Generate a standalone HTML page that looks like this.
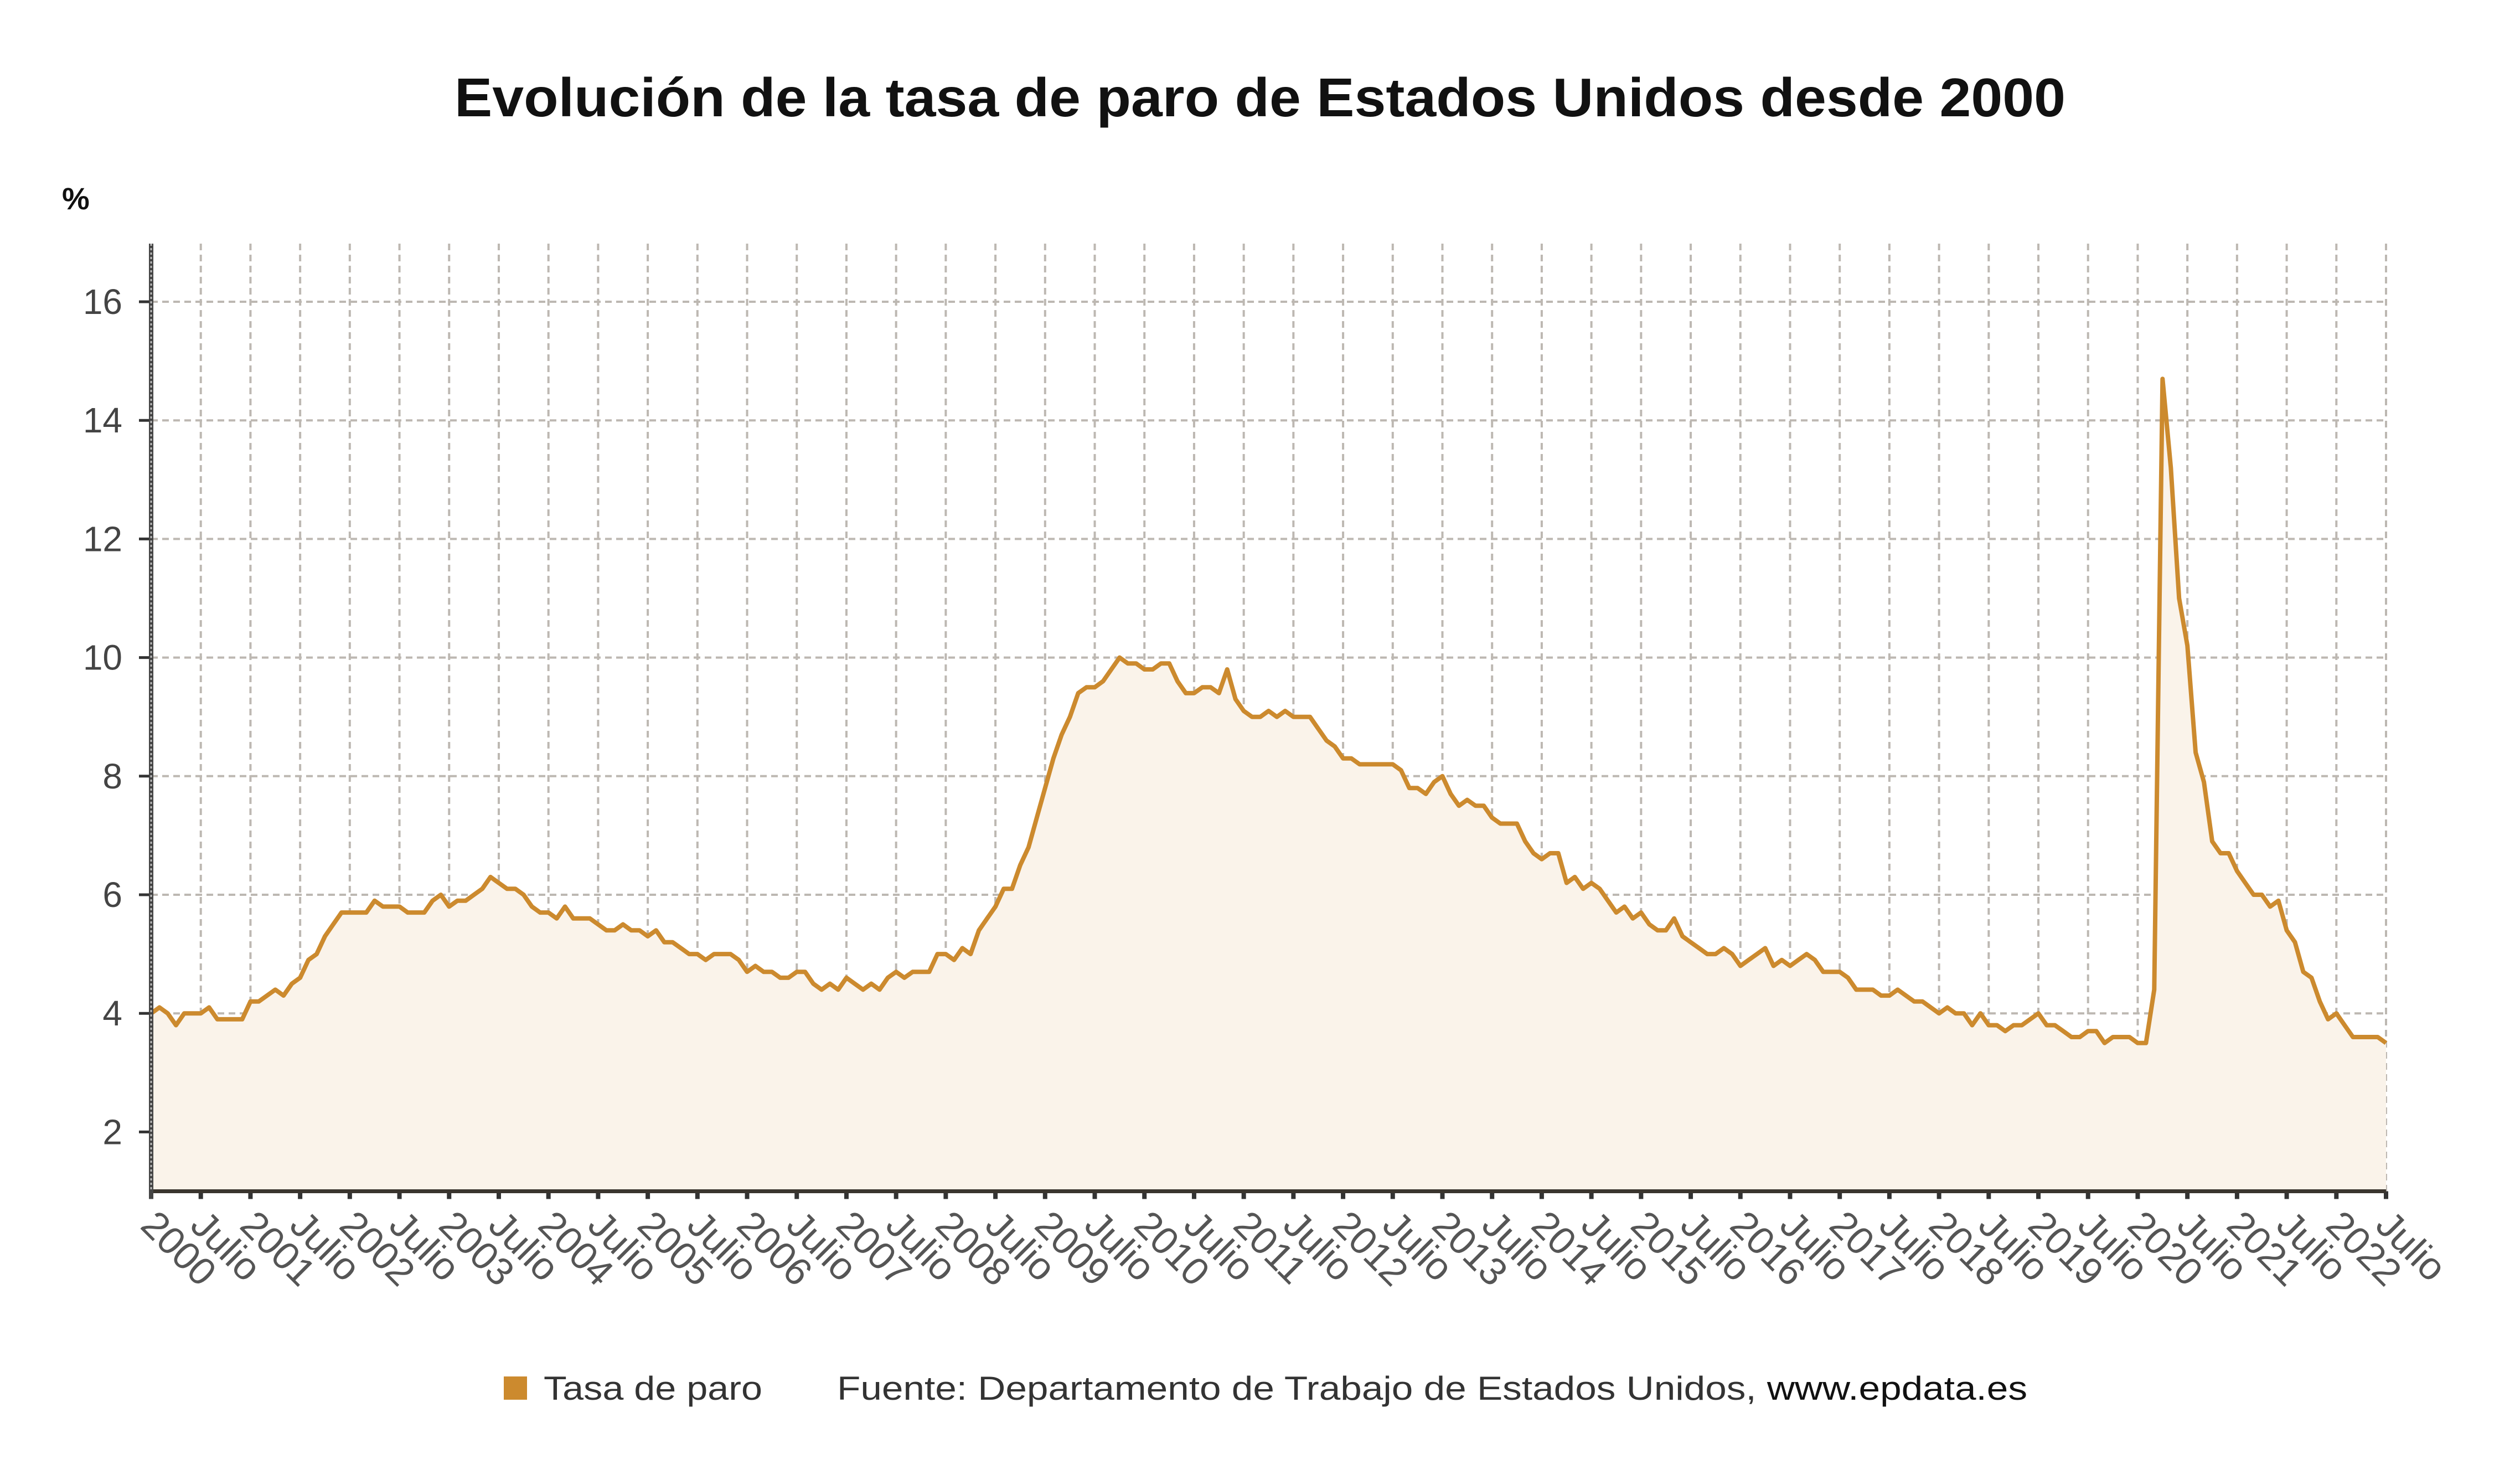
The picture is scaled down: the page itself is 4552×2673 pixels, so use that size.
<!DOCTYPE html>
<html><head><meta charset="utf-8"><style>
html,body{margin:0;padding:0;background:#fff;}
svg{display:block;font-family:"Liberation Sans",sans-serif;}
</style></head><body>
<svg id="c" width="4552" height="2673" viewBox="0 0 4552 2673" xmlns="http://www.w3.org/2000/svg">
<text x="2276" y="210" text-anchor="middle" font-size="98" font-weight="bold" fill="#111" textLength="2910" lengthAdjust="spacingAndGlyphs">Evolución de la tasa de paro de Estados Unidos desde 2000</text>
<text x="112" y="378" font-size="56" font-weight="bold" fill="#111">%</text>
<g id="grid"></g>
<g id="plot"></g>
<g id="axes"></g>
<rect x="910" y="2486" width="42" height="42" fill="#cc8a2e"/>
<text x="982" y="2528" font-size="60" fill="#333" textLength="395" lengthAdjust="spacingAndGlyphs">Tasa de paro</text>
<text x="1512" y="2528" font-size="60" fill="#333" textLength="2150" lengthAdjust="spacingAndGlyphs">Fuente: Departamento de Trabajo de Estados Unidos, <tspan fill="#111">www.epdata.es</tspan></text>
</svg>
<script>
var d=[4.0,4.1,4.0,3.8,4.0,4.0,4.0,4.1,3.9,3.9,3.9,3.9,
4.2,4.2,4.3,4.4,4.3,4.5,4.6,4.9,5.0,5.3,5.5,5.7,
5.7,5.7,5.7,5.9,5.8,5.8,5.8,5.7,5.7,5.7,5.9,6.0,
5.8,5.9,5.9,6.0,6.1,6.3,6.2,6.1,6.1,6.0,5.8,5.7,
5.7,5.6,5.8,5.6,5.6,5.6,5.5,5.4,5.4,5.5,5.4,5.4,
5.3,5.4,5.2,5.2,5.1,5.0,5.0,4.9,5.0,5.0,5.0,4.9,
4.7,4.8,4.7,4.7,4.6,4.6,4.7,4.7,4.5,4.4,4.5,4.4,
4.6,4.5,4.4,4.5,4.4,4.6,4.7,4.6,4.7,4.7,4.7,5.0,
5.0,4.9,5.1,5.0,5.4,5.6,5.8,6.1,6.1,6.5,6.8,7.3,
7.8,8.3,8.7,9.0,9.4,9.5,9.5,9.6,9.8,10.0,9.9,9.9,
9.8,9.8,9.9,9.9,9.6,9.4,9.4,9.5,9.5,9.4,9.8,9.3,
9.1,9.0,9.0,9.1,9.0,9.1,9.0,9.0,9.0,8.8,8.6,8.5,
8.3,8.3,8.2,8.2,8.2,8.2,8.2,8.1,7.8,7.8,7.7,7.9,
8.0,7.7,7.5,7.6,7.5,7.5,7.3,7.2,7.2,7.2,6.9,6.7,
6.6,6.7,6.7,6.2,6.3,6.1,6.2,6.1,5.9,5.7,5.8,5.6,
5.7,5.5,5.4,5.4,5.6,5.3,5.2,5.1,5.0,5.0,5.1,5.0,
4.8,4.9,5.0,5.1,4.8,4.9,4.8,4.9,5.0,4.9,4.7,4.7,
4.7,4.6,4.4,4.4,4.4,4.3,4.3,4.4,4.3,4.2,4.2,4.1,
4.0,4.1,4.0,4.0,3.8,4.0,3.8,3.8,3.7,3.8,3.8,3.9,
4.0,3.8,3.8,3.7,3.6,3.6,3.7,3.7,3.5,3.6,3.6,3.6,
3.5,3.5,4.4,14.7,13.2,11.0,10.2,8.4,7.9,6.9,6.7,6.7,
6.4,6.2,6.0,6.0,5.8,5.9,5.4,5.2,4.7,4.6,4.2,3.9,
4.0,3.8,3.6,3.6,3.6,3.6,3.5];
var X0=273,X1=4310,N=270,Y16=545,YU=107.1;
function X(i){return X0+(X1-X0)*i/N;}
function Y(v){return Y16+(16-v)*YU;}
var YB=Y(1),YT=440;
var ns="http://www.w3.org/2000/svg";
function el(p,t,a,txt){var e=document.createElementNS(ns,t);for(var k in a)e.setAttribute(k,a[k]);if(txt)e.textContent=txt;document.getElementById(p).appendChild(e);return e;}
var pts=d.map(function(v,i){return X(i).toFixed(1)+","+Y(v).toFixed(1);}).join(" ");
el("plot","polygon",{points:X0+","+YB+" "+pts+" "+X1+","+YB,fill:"#faf3ea"});
for(var v=2;v<=16;v+=2){el("grid","line",{x1:X0,x2:X1,y1:Y(v),y2:Y(v),stroke:"#bdb8b2","stroke-width":4,"stroke-dasharray":"12,8"});
 el("axes","line",{x1:X0-22,x2:X0,y1:Y(v),y2:Y(v),stroke:"#333","stroke-width":5});
 el("axes","text",{x:X0-52,y:Y(v)+22,"text-anchor":"end","font-size":64,fill:"#444"},String(v));}
for(var k=0;k<=45;k++){var x=X(k*6);
 if(k>0)el("grid","line",{x1:x,x2:x,y1:YT,y2:YB,stroke:"#bdb8b2","stroke-width":4,"stroke-dasharray":"12,8"});
 el("axes","line",{x1:x,x2:x,y1:YB,y2:YB+14,stroke:"#333","stroke-width":8});
 var lab=(k%2==0)?String(2000+k/2):"Julio";
 el("axes","text",{x:x-22,y:YB+65,"font-size":70,fill:"#555",transform:"rotate(45 "+(x-22)+" "+(YB+65)+")"},lab);}
el("plot","polyline",{points:pts,fill:"none",stroke:"#cc8a2e","stroke-width":8,"stroke-linejoin":"round"});
el("axes","line",{x1:X0,x2:X1,y1:YB,y2:YB,stroke:"#3a352e","stroke-width":7});
el("axes","line",{x1:X0,x2:X0,y1:YT,y2:YB+14,stroke:"#444","stroke-width":8});
el("axes","line",{x1:X0,x2:X0,y1:YT,y2:YB,stroke:"#bbb","stroke-width":3,"stroke-dasharray":"4,4"});
</script>
</body></html>
